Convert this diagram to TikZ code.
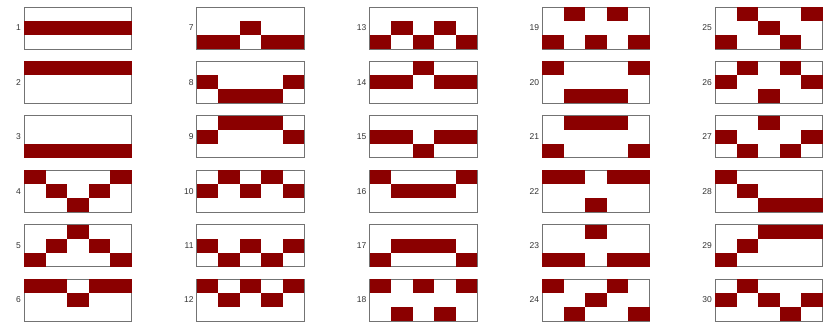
\documentclass[tikz,border=0pt]{standalone}
\usepackage{fontspec}
\setmainfont{Liberation Sans}
\usetikzlibrary{calc}
\definecolor{cellred}{RGB}{139,0,0}
\definecolor{framegray}{RGB}{115,115,115}
\tikzset{
  panelbox/.style={draw=framegray, line width=0.8pt, fill=white, rectangle,
    minimum width=107.5pt, minimum height=42pt, inner sep=0pt, outer sep=0pt, anchor=north west},
  panellabel/.style={font=\fontsize{8.5}{9}\selectfont, text=black!80, inner sep=0pt, anchor=east},
  cellfill/.style={fill=cellred}
}
\begin{document}
\begin{tikzpicture}[x=1pt,y=-1pt]
\useasboundingbox (0,0) rectangle (823,325);
\fill[white] (0,0) rectangle (823,325);
\foreach \n/\pat in {
  1/{1,1,1,1,1}, 2/{0,0,0,0,0}, 3/{2,2,2,2,2}, 4/{0,1,2,1,0}, 5/{2,1,0,1,2}, 6/{0,0,1,0,0},
  7/{2,2,1,2,2}, 8/{1,2,2,2,1}, 9/{1,0,0,0,1}, 10/{1,0,1,0,1}, 11/{1,2,1,2,1}, 12/{0,1,0,1,0},
  13/{2,1,2,1,2}, 14/{1,1,0,1,1}, 15/{1,1,2,1,1}, 16/{0,1,1,1,0}, 17/{2,1,1,1,2}, 18/{0,2,0,2,0},
  19/{2,0,2,0,2}, 20/{0,2,2,2,0}, 21/{2,0,0,0,2}, 22/{0,0,2,0,0}, 23/{2,2,0,2,2}, 24/{0,2,1,0,2},
  25/{2,0,1,2,0}, 26/{1,0,2,0,1}, 27/{1,2,0,2,1}, 28/{0,1,2,2,2}, 29/{2,1,0,0,0}, 30/{1,0,1,2,1}} {
  \pgfmathtruncatemacro{\col}{int((\n-1)/6)}
  \pgfmathtruncatemacro{\row}{mod(\n-1,6)}
  \pgfmathsetmacro{\xo}{24+172.75*\col}
  \pgfmathsetmacro{\yo}{7+54.4*\row}
  \node[panelbox] (p\n) at (\xo,\yo) {};
  \node[panellabel] (l\n) at ([xshift=-3pt]p\n.west) {\n};
  \foreach \r [count=\c from 0] in \pat {
    \fill[cellfill] ($(p\n.north west)+(21.5*\c,14*\r)$) rectangle ++(21.5,14);
  }
}
\end{tikzpicture}
\end{document}
